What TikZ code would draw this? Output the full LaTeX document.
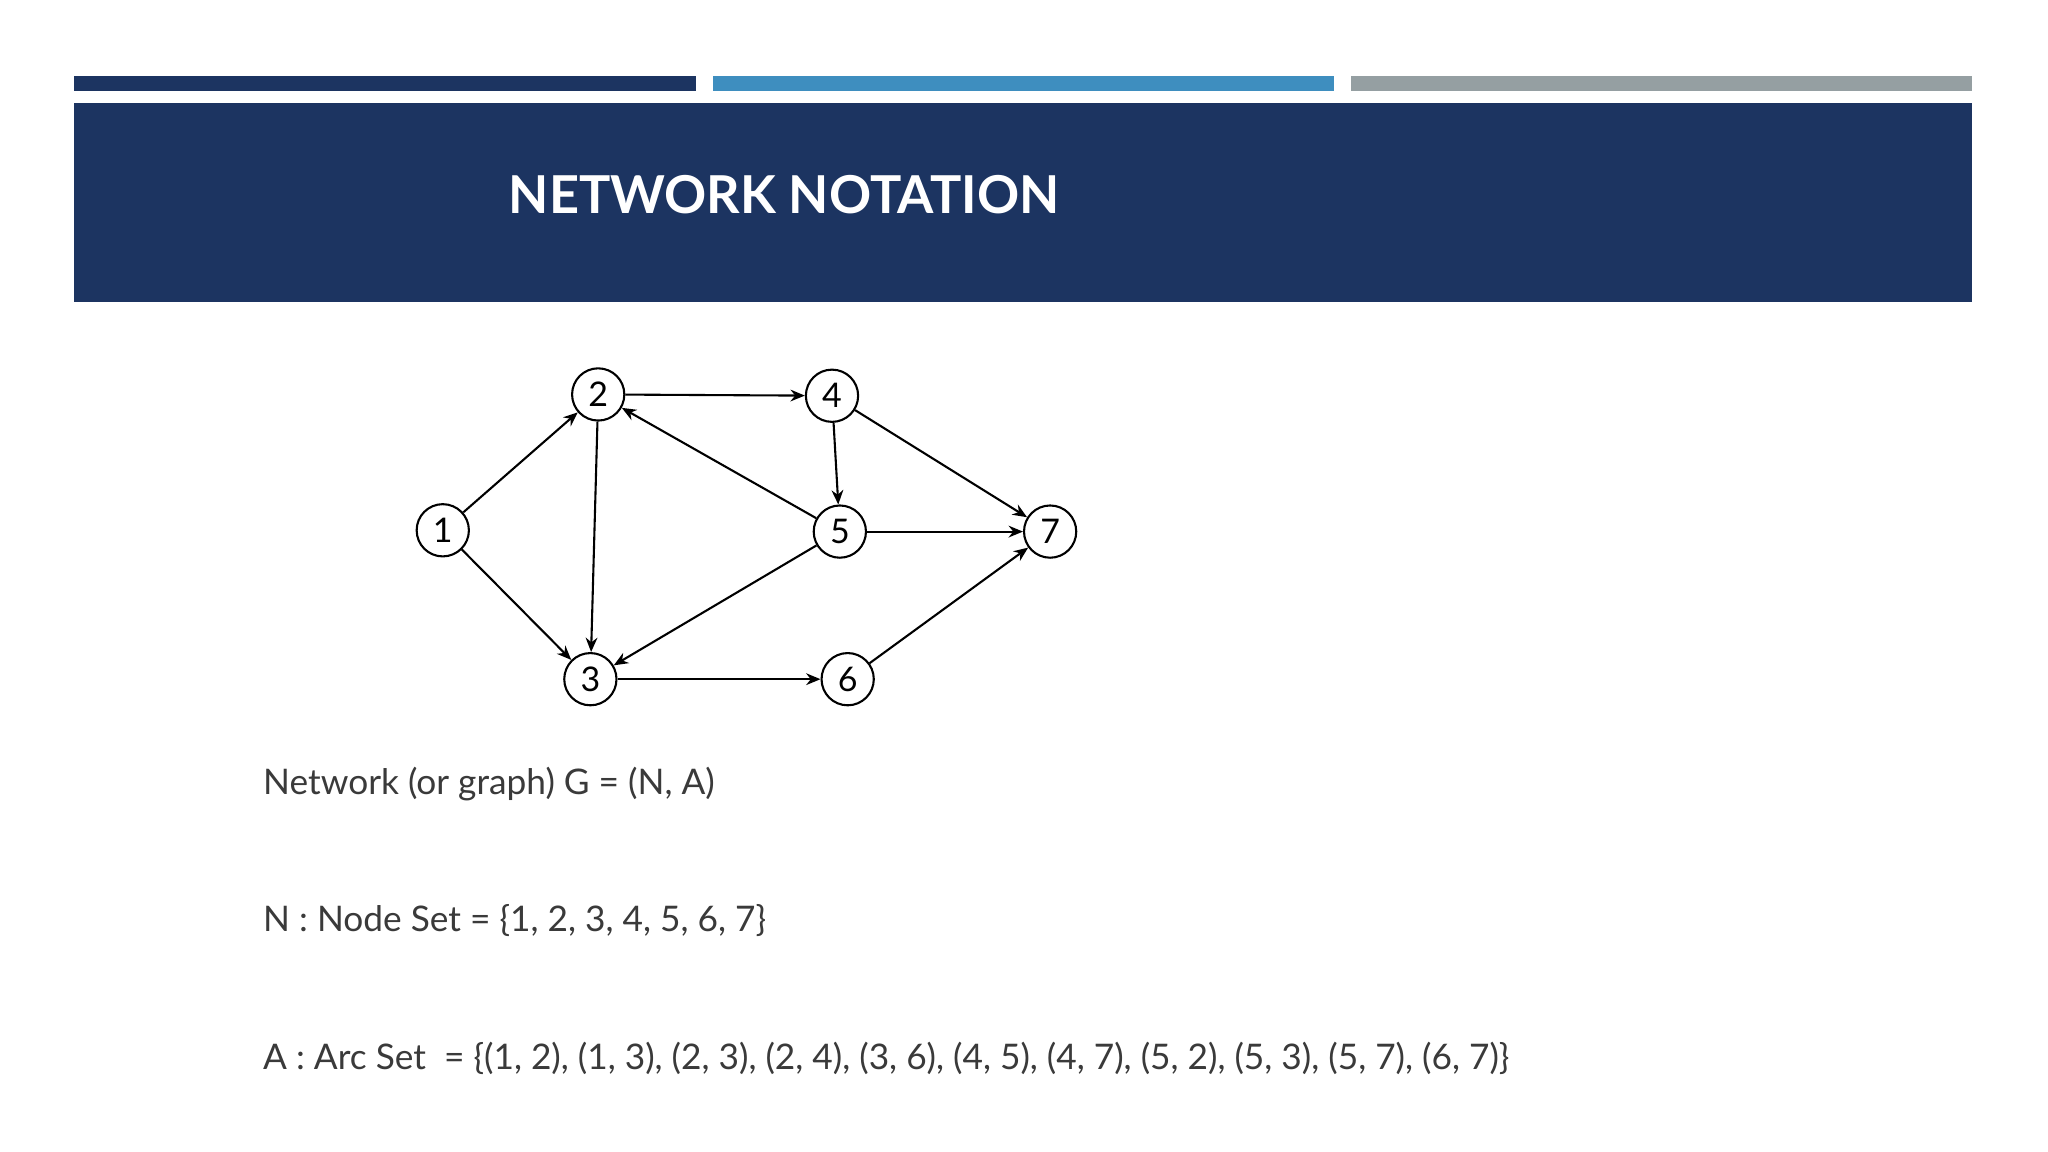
\documentclass[tikz,border=0pt]{standalone}
\usepackage{fontspec}
\setmainfont{Lato}
\usetikzlibrary{arrows.meta}
\definecolor{navy}{HTML}{1C3461}
\definecolor{bblue}{HTML}{3E8EBF}
\definecolor{bgray}{HTML}{959FA2}
\definecolor{txt}{HTML}{3A3A3A}
\tikzset{
  vtx/.style={circle,draw,line width=1.6pt,minimum size=40pt,inner sep=0pt,font=\fontsize{26}{26}\selectfont},
  arc/.style={line width=1.6pt,-{Stealth[length=11pt,width=9pt]}},
  body/.style={anchor=west,text=txt,font=\fontsize{27}{30}\selectfont}
}
\begin{document}
\begin{tikzpicture}[x=1pt,y=-1pt]
\useasboundingbox (0,0) rectangle (1568,882);
\fill[white] (0,0) rectangle (1568,882);
\fill[navy] (57,58) rectangle (533,70);
\fill[bblue] (546,58) rectangle (1021,70);
\fill[bgray] (1034,58) rectangle (1510,70);
\fill[navy] (57,79) rectangle (1510,231);
\node[anchor=west,text=white,font=\bfseries\fontsize{40}{40}\selectfont] (title) at (386,149) {NETWORK NOTATION};
\node[vtx] (n1) at (339,406) {1};
\node[vtx] (n2) at (458,302) {2};
\node[vtx] (n4) at (637,303) {4};
\node[vtx] (n5) at (643,407) {5};
\node[vtx] (n7) at (804,407) {7};
\node[vtx] (n3) at (452,520) {3};
\node[vtx] (n6) at (649,520) {6};
\draw[arc] (n1) -- (n2);
\draw[arc] (n1) -- (n3);
\draw[arc] (n2) -- (n3);
\draw[arc] (n2) -- (n4);
\draw[arc] (n3) -- (n6);
\draw[arc] (n4) -- (n5);
\draw[arc] (n4) -- (n7);
\draw[arc] (n5) -- (n2);
\draw[arc] (n5) -- (n3);
\draw[arc] (n5) -- (n7);
\draw[arc] (n6) -- (n7);
\node[body] (t1) at (198,600) {Network (or graph) G = (N, A)};
\node[body] (t2) at (198,705) {N : Node Set = \{1, 2, 3, 4, 5, 6, 7\}};
\node[body] (t3) at (198,810) {A : Arc Set \ = \{(1, 2), (1, 3), (2, 3), (2, 4), (3, 6), (4, 5), (4, 7), (5, 2), (5, 3), (5, 7), (6, 7)\}};
\end{tikzpicture}
\end{document}
